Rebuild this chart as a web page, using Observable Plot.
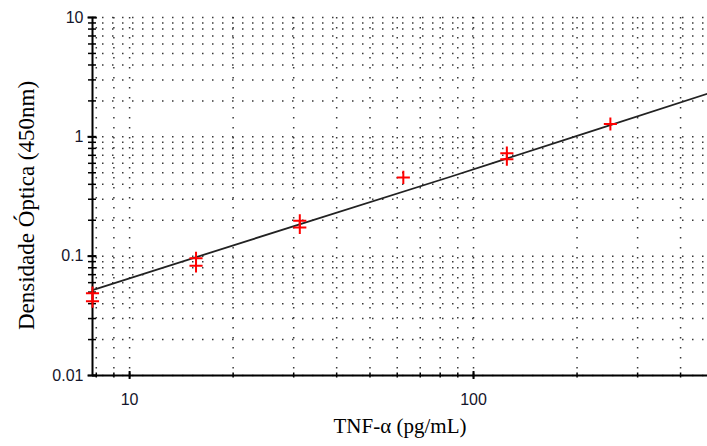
<!DOCTYPE html>
<html>
<head>
<meta charset="utf-8">
<script src="https://cdn.jsdelivr.net/npm/d3@7"></script>
<script src="https://cdn.jsdelivr.net/npm/@observablehq/plot@0.6"></script>
<style>
  html, body { margin: 0; padding: 0; background: #fff; overflow: hidden; }
</style>
</head>
<body>
<div id="chart"></div>
<script>
// Standard concentrations (pg/mL) and measured optical density (450 nm)
const concentrations = [7.8, 7.8, 15.6, 15.6, 31.25, 31.25, 62.5, 125, 125, 250];
const opticalDensity = [0.049, 0.042, 0.096, 0.083, 0.198, 0.174, 0.457, 0.73, 0.65, 1.28];

// Fitted standard curve
const fitConcentration = [7.8, 22.5, 85.7, 200, 479];
const fitDensity = [0.052, 0.137, 0.463, 1.02, 2.30];

// Axis domains and ticks
const xDomain = [7.8, 479];
const yDomain = [0.01, 10];
const xMajorTicks = [10, 100];
const xMinorTicks = [8, 9, 10, 20, 30, 40, 50, 60, 70, 80, 90, 100, 200, 300, 400];
const yMajorTicks = [0.01, 0.1, 1, 10];
const yMinorTicks = [0.01, 0.02, 0.03, 0.04, 0.05, 0.06, 0.07, 0.08, 0.09,
                     0.1, 0.2, 0.3, 0.4, 0.5, 0.6, 0.7, 0.8, 0.9,
                     1, 2, 3, 4, 5, 6, 7, 8, 9, 10];

const xTitle = "TNF-α (pg/mL)";
const yTitle = "Densidade Óptica (450nm)";

const points = concentrations.map((c, i) => ({c, od: opticalDensity[i]}));
const fit = fitConcentration.map((c, i) => ({c, od: fitDensity[i]}));

const tickFont = "'Liberation Sans', Arial, sans-serif";
const titleFont = "'Liberation Serif', 'Times New Roman', serif";
const gridStyle = {stroke: "#222", strokeOpacity: 0.9, strokeWidth: 1.5, strokeDasharray: "1.5,8.5"};

const chart = Plot.plot({
  width: 707,
  height: 446,
  marginLeft: 92,
  marginRight: 0,
  marginTop: 17,
  marginBottom: 71,
  style: {background: "#fff", overflow: "visible"},
  x: {type: "log", domain: xDomain},
  y: {type: "log", domain: yDomain},
  marks: [
    // dotted grid
    Plot.gridX(xMinorTicks, gridStyle),
    Plot.gridY(yMinorTicks, gridStyle),
    // axis lines
    Plot.ruleX([xDomain[0]], {stroke: "#000", strokeWidth: 2}),
    Plot.ruleY([yDomain[0]], {stroke: "#000", strokeWidth: 2}),
    // crossing minor ticks
    Plot.axisX(xMinorTicks, {tickSize: 5, dy: -2.5, tickFormat: () => "", label: null, stroke: "#000", strokeWidth: 1.5}),
    Plot.axisY(yMinorTicks, {tickSize: 8, dx: 4, tickFormat: () => "", label: null, stroke: "#000", strokeWidth: 1.5}),
    // major ticks
    Plot.axisX(xMajorTicks, {tickSize: 8, dy: -4, tickFormat: () => "", label: null, stroke: "#000", strokeWidth: 2}),
    Plot.axisY(yMajorTicks, {tickSize: 9, dx: 4.5, tickFormat: () => "", label: null, stroke: "#000", strokeWidth: 2}),
    // tick labels
    Plot.axisX(xMajorTicks, {tickSize: 0, tickPadding: 18, tickFormat: d => String(d), label: null,
      fontSize: 16, fontFamily: tickFont, fill: "#15152a"}),
    Plot.axisY(yMajorTicks, {tickSize: 0, tickPadding: 9, tickFormat: d => String(d), label: null,
      fontSize: 16, fontFamily: tickFont, fill: "#15152a"}),
    // fitted curve
    Plot.line(fit, {x: "c", y: "od", stroke: "#222", strokeWidth: 1.8}),
    // measured points
    Plot.dot(points, {x: "c", y: "od", symbol: "plus", r: 4.3, stroke: "#ff0000", strokeWidth: 2}),
    // axis titles
    Plot.text([xTitle], {frameAnchor: "bottom", dy: 57, text: d => d, textAnchor: "middle",
      fontSize: 21, fontFamily: titleFont, fill: "#000"}),
    Plot.text([yTitle], {frameAnchor: "left", dx: -66, dy: 9, rotate: -90, text: d => d, textAnchor: "middle",
      fontSize: 23, fontFamily: titleFont, fill: "#000"})
  ]
});
document.getElementById("chart").appendChild(chart);
</script>
</body>
</html>
